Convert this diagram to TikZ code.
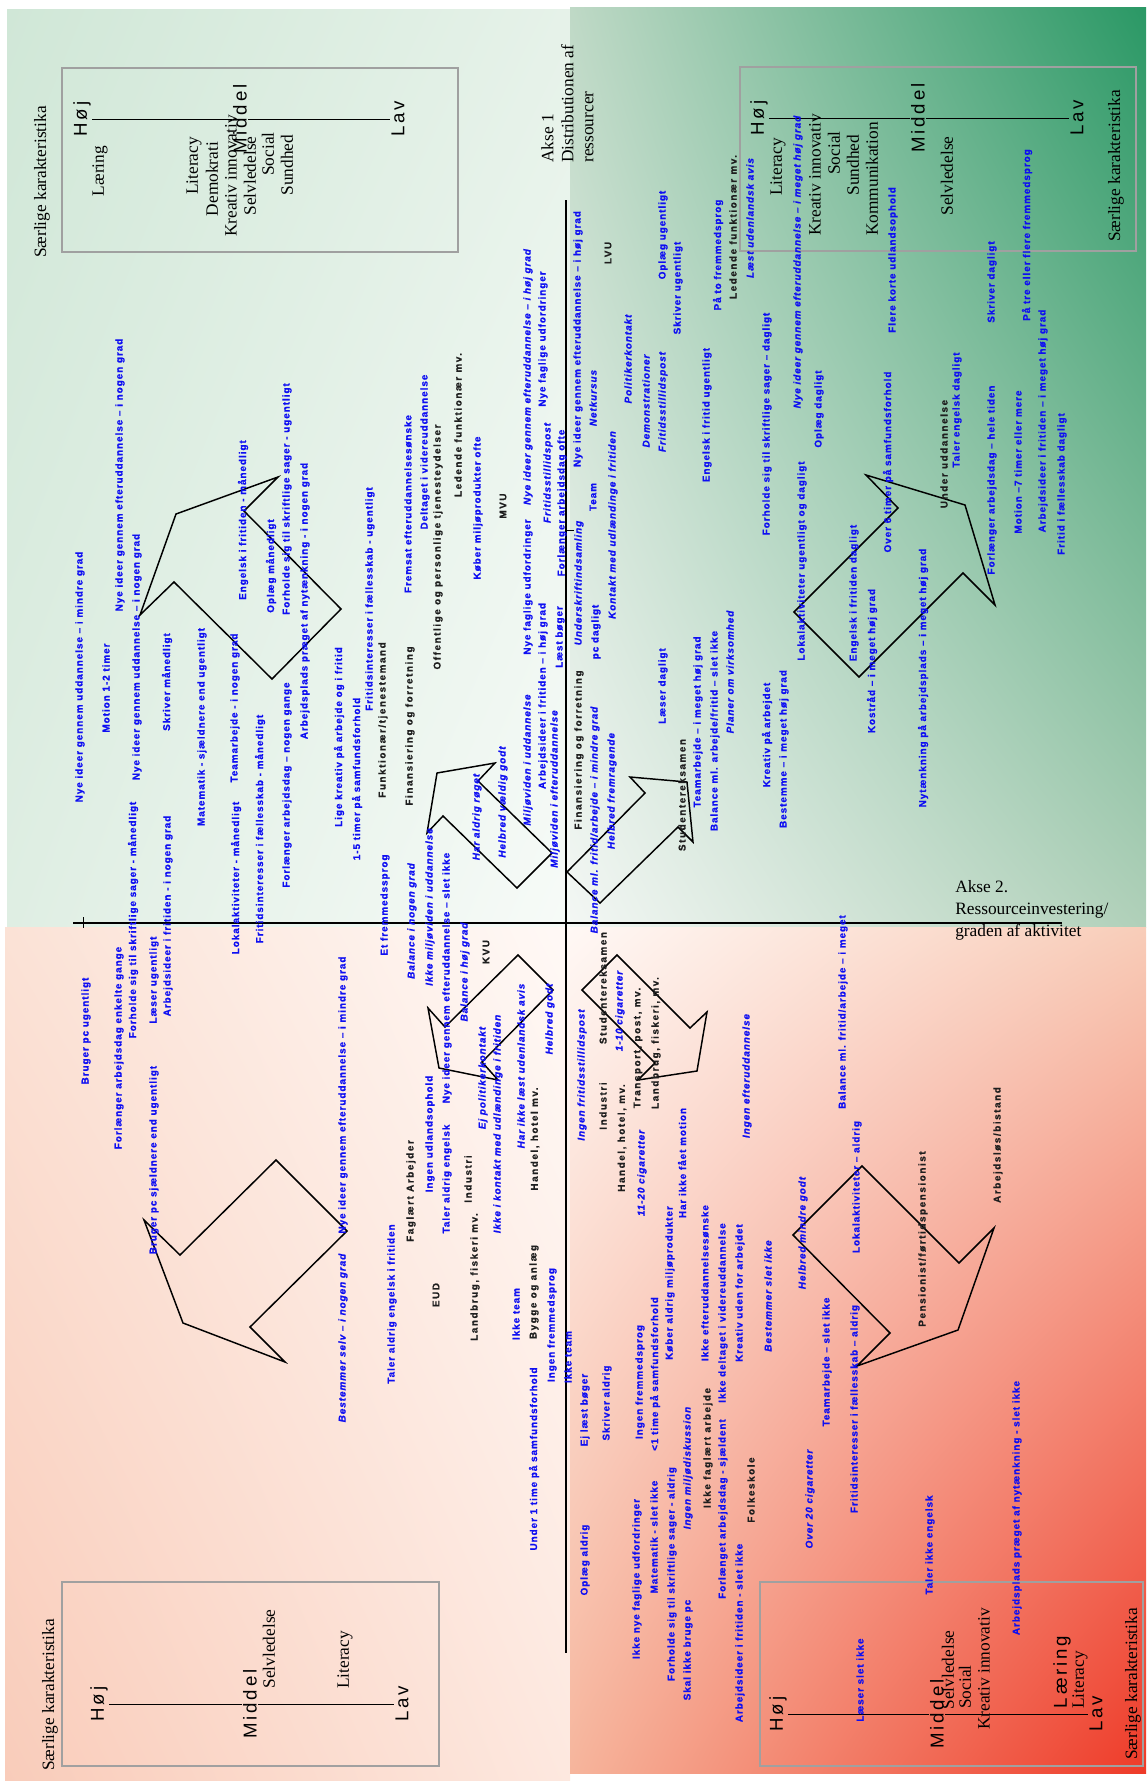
\documentclass[tikz,border=0pt]{standalone}
\usepackage{fontspec}
\usetikzlibrary{shadings}
\setmainfont{Liberation Serif}
\newfontfamily\lblfont[LetterSpace=10, BoldFeatures={FakeBold=0.8}, BoldItalicFeatures={FakeBold=0.8}]{Liberation Sans}
\newfontfamily\blkfont[LetterSpace=16, BoldFeatures={FakeBold=0.8}]{Liberation Sans}
\newfontfamily\levelfont[LetterSpace=15]{Liberation Sans}

\definecolor{lblblue}{RGB}{14,14,242}
\definecolor{lblblack}{RGB}{30,30,30}
\definecolor{boxgray}{RGB}{160,160,160}
\definecolor{tlA}{HTML}{D0E7D7}
\definecolor{tlB}{HTML}{E6F2E9}
\definecolor{tlC}{HTML}{DFEEE3}
\definecolor{tlD}{HTML}{F7FBF8}
\definecolor{trA}{HTML}{BFD9C6}
\definecolor{trB}{HTML}{2A9865}
\definecolor{trC}{HTML}{F3F7F4}
\definecolor{trD}{HTML}{B0D0B9}
\definecolor{blA}{HTML}{FBE2D6}
\definecolor{blB}{HTML}{FFF9F6}
\definecolor{blC}{HTML}{F9CCBA}
\definecolor{blD}{HTML}{FDE8DF}
\definecolor{brA}{HTML}{FFF8F5}
\definecolor{brB}{HTML}{F8CDB9}
\definecolor{brC}{HTML}{F6B59C}
\definecolor{brD}{HTML}{EE3A28}

\tikzset{
  lbl/.style={rotate=90, inner sep=0pt, text=lblblue, font=\lblfont\bfseries\fontsize{7.4}{8}\selectfont},
  lbli/.style={lbl, font=\lblfont\bfseries\itshape\fontsize{7.4}{8}\selectfont},
  lblk/.style={lbl, text=lblblack, font=\blkfont\bfseries\fontsize{7.4}{8}\selectfont},
  lvlmark/.style={rotate=90, inner sep=1pt, font=\levelfont\fontsize{14}{16}\selectfont},
  trait/.style={rotate=90, inner sep=0pt, font=\fontsize{13}{15}\selectfont},
  charbox/.style={draw=boxgray, line width=1.2pt},
  mainaxis/.style={line width=0.8pt},
  arrowshape/.style={line width=1.1pt, line join=miter}
}

\begin{document}
\begin{tikzpicture}[x=0.75pt,y=-0.75pt]
\useasboundingbox (0,0) rectangle (1146,1781);
\fill[white] (0,0) rectangle (1146,1781);

\shade[upper left=tlA, upper right=tlB, lower left=tlC, lower right=tlD] (7,9) rectangle (570,927);
\shade[upper left=trA, upper right=trB, lower left=trC, lower right=trD] (570,7) rectangle (1146,927);
\shade[upper left=blA, upper right=blB, lower left=blC, lower right=blD] (5,927) rectangle (570,1780);
\shade[upper left=brA, upper right=brB, lower left=brC, lower right=brD] (570,927) rectangle (1146,1773);

\coordinate (xa) at (73,923);
\coordinate (xb) at (1062,923);
\coordinate (ya) at (566,200);
\coordinate (yb) at (566,1653);
\coordinate (t1a) at (83,917);
\coordinate (t1b) at (83,928);
\coordinate (t2a) at (566,530);
\coordinate (t2b) at (574,530);
\draw[mainaxis] (xa) -- (xb);
\draw[mainaxis] (ya) -- (yb);
\draw (t1a) -- (t1b);
\draw (t2a) -- (t2b);

\draw[charbox] (62,68) rectangle (458,252);
\draw[charbox] (740,67) rectangle (1136,251);
\draw[charbox] (62,1582) rectangle (439,1766);
\draw[charbox] (760,1582) rectangle (1143,1766);

\draw[arrowshape] (140,615) -- (176,514) -- (278,477) -- (244,511) -- (341,609) -- (272,679) -- (174,582) -- cycle;
\draw[arrowshape] (427,833) -- (437,773) -- (495,763) -- (478,781) -- (552,853) -- (517,888) -- (443,816) -- cycle;
\draw[arrowshape] (630,777) -- (687,782) -- (693,842) -- (678,827) -- (600,903) -- (567,872) -- (645,793) -- cycle;
\draw[arrowshape] (866,475) -- (898,508) -- (794,612) -- (859,677) -- (963,573) -- (995,605) -- (965,505) -- cycle;
\draw[arrowshape] (445,1027) -- (518,955) -- (553,990) -- (482,1062) -- (498,1080) -- (439,1068) -- (428,1008) -- cycle;
\draw[arrowshape] (582,990) -- (617,955) -- (690,1028) -- (707,1012) -- (697,1071) -- (638,1080) -- (655,1063) -- cycle;
\draw[arrowshape] (144,1220) -- (180,1255) -- (276,1160) -- (347,1231) -- (250,1327) -- (285,1362) -- (183,1323) -- cycle;
\draw[arrowshape] (862,1166) -- (793,1235) -- (890,1333) -- (857,1366) -- (958,1330) -- (994,1228) -- (959,1263) -- cycle;

\begin{scope}[every node/.style={lvlmark}]
  \node (hoj1) at (82,119)   {Høj};
  \node (mid1) at (240,119)  {Middel};
  \node (lav1) at (398,119)  {Lav};
  \node (hoj2) at (759,118)  {Høj};
  \node (mid2) at (918,118)  {Middel};
  \node (lav2) at (1077,118) {Lav};
  \node (hoj3) at (99,1704)  {Høj};
  \node (mid3) at (250,1704) {Middel};
  \node (lav3) at (402,1704) {Lav};
  \node (hoj4) at (778,1714) {Høj};
  \node (mid4) at (937,1714) {Middel};
  \node (lav4) at (1096,1714) {Lav};
  \node (laer4) at (1062,1672) {Læring};
\end{scope}
\draw (hoj1) -- (mid1);
\draw (mid1) -- (lav1);
\draw (hoj2) -- (mid2);
\draw (mid2) -- (lav2);
\draw (hoj3) -- (mid3);
\draw (mid3) -- (lav3);
\draw (hoj4) -- (mid4);
\draw (mid4) -- (lav4);

\begin{scope}[every node/.style={trait}]
  \node (sk1) at (42,182)   {Særlige karakteristika};
  \node (tl1) at (100,171)  {Læring};
  \node (tl2) at (194,166)  {Literacy};
  \node (tl3) at (212,179)  {Demokrati};
  \node (tl4) at (231,176)  {Kreativ innovativ};
  \node (tl5) at (250,176)  {Selvledelse};
  \node (tl6) at (268,154)  {Social};
  \node (tl7) at (287,165)  {Sundhed};
  \node (sk2) at (1116,166) {Særlige karakteristika};
  \node (tr1) at (778,167)  {Literacy};
  \node (tr2) at (815,175)  {Kreativ innovativ};
  \node (tr3) at (834,153)  {Social};
  \node (tr4) at (853,165)  {Sundhed};
  \node (tr5) at (872,179)  {Kommunikation};
  \node (tr6) at (947,176)  {Selvledelse};
  \node (sk3) at (50,1695)  {Særlige karakteristika};
  \node (bl1) at (269,1649) {Selvledelse};
  \node (bl2) at (345,1660) {Literacy};
  \node (sk4) at (1133,1684) {Særlige karakteristika};
  \node (br1) at (948,1670) {Selvledelse};
  \node (br2) at (965,1687) {Social};
  \node (br3) at (984,1669) {Kreativ innovativ};
  \node (br4) at (1080,1680) {Literacy};
  \node[anchor=north west, align=left] (akse1) at (541,163) {Akse 1\\Distributionen af\\ressourcer};
\end{scope}
\node[anchor=north west, align=left, inner sep=0pt, font=\fontsize{13}{16.5}\selectfont] (akse2) at (955,880) {Akse 2.\\Ressourceinvestering/\\graden af aktivitet};

\begin{scope}[every node/.style={lbl}]
  \node (b1)  at (80,677)   {Nye ideer gennem uddannelse – i mindre grad};
  \node (b2)  at (106,688)  {Motion 1-2 timer};
  \node (b3)  at (120,475)  {Nye ideer gennem efteruddannelse – i nogen grad};
  \node (b4)  at (137,657)  {Nye ideer gennem uddannelse – i nogen grad};
  \node (b5)  at (133,920)  {Forholde sig til skriftlige sager - månedligt};
  \node (b6)  at (167,682)  {Skriver månedligt};
  \node (b7)  at (168,916)  {Arbejdsideer i fritiden - i nogen grad};
  \node (b8)  at (202,727)  {Matematik - sjældnere end ugentligt};
  \node (b9)  at (235,708)  {Teamarbejde - i nogen grad};
  \node (b10) at (236,878)  {Lokalaktiviteter - månedligt};
  \node (b11) at (243,520)  {Engelsk i fritiden - månedligt};
  \node (b12) at (260,829)  {Fritidsinteresser i fællesskab - månedligt};
  \node (b13) at (271,566)  {Oplæg månedligt};
  \node (b14) at (287,499)  {Forholde sig til skriftlige sager - ugentligt};
  \node (b15) at (287,785)  {Forlænger arbejdsdag – nogen gange};
  \node (b16) at (305,601)  {Arbejdsplads præget af nytænkning - i nogen grad};
  \node (b17) at (339,737)  {Lige kreativ på arbejde og i fritid};
  \node (b18) at (357,779)  {1-5 timer på samfundsforhold};
  \node (b19) at (370,599)  {Fritidsinteresser i fællesskab - ugentligt};
  \node (b20) at (385,905)  {Et fremmedssprog};
  \node (b21) at (408,504)  {Fremsat efteruddannelsesønske};
  \node (b22) at (425,452)  {Deltaget i videreuddannelse};
  \node (b23) at (478,508)  {Køber miljøprodukter ofte};
  \node (b24) at (528,587)  {Nye faglige udfordringer};
  \node (b25) at (543,696)  {Arbejdsideer i fritiden – i høj grad};
  \node (b26) at (543,339)  {Nye faglige udfordringer};
  \node (b27) at (560,637)  {Læst bøger};
  \node (b28) at (562,503)  {Forlænger arbejdsdag ofte};
  \node (b29) at (578,339)  {Nye ideer gennem efteruddannelse – i høj grad};
  \node (b30) at (596,632)  {pc dagligt};
  \node (b31) at (593,497)  {Team};
  \node (b32) at (663,235)  {Oplæg ugentligt};
  \node (b33) at (678,288)  {Skriver ugentligt};
  \node (b34) at (663,686)  {Læser dagligt};
  \node (b35) at (698,722)  {Teamarbejde – i meget høj grad};
  \node (b36) at (707,415)  {Engelsk i fritid ugentligt};
  \node (b37) at (715,731)  {Balance ml. arbejde/fritid – slet ikke};
  \node (b38) at (718,255)  {På to fremmedsprog};
  \node (b39) at (767,424)  {Forholde sig til skriftlige sager – dagligt};
  \node (b40) at (767,735)  {Kreativ på arbejdet};
  \node (b41) at (819,409)  {Oplæg dagligt};
  \node (b42) at (893,260)  {Flere korte udlandsophold};
  \node (b43) at (888,462)  {Over 6 timer på samfundsforhold};
  \node (b44) at (957,410)  {Taler engelsk dagligt};
  \node (b45) at (992,282)  {Skriver dagligt};
  \node (b46) at (992,480)  {Forlænger arbejdsdag – hele tiden};
  \node (b47) at (1027,235) {På tre eller flere fremmedsprog};
  \node (b48) at (1018,462) {Motion –7 timer eller mere};
  \node (b49) at (1043,421) {Arbejdsideer i fritiden – i meget høj grad};
  \node (b50) at (1062,484) {Fritid i fællesskab dagligt};
  \node (b51) at (802,561)  {Lokalaktiviteter ugentligt og dagligt};
  \node (b52) at (784,749)  {Bestemme – i meget høj grad};
  \node (b53) at (854,593)  {Engelsk i fritiden dagligt};
  \node (b54) at (872,661)  {Kostråd – i meget høj grad};
  \node (b55) at (923,678)  {Nytænkning på arbejdsplads – i meget høj grad};
  \node (b56) at (86,1031)  {Bruger pc ugentligt};
  \node (b57) at (119,1048) {Forlænger arbejdsdag enkelte gange};
  \node (b58) at (154,980)  {Læser ugentligt};
  \node (b59) at (154,1160) {Bruger pc sjældnere end ugentligt};
  \node (b60) at (343,1095) {Nye ideer gennem efteruddannelse – i mindre grad};
  \node (b61) at (392,1304) {Taler aldrig engelsk i fritiden};
  \node (b62) at (447,978)  {Nye ideer gennem efteruddannelse – slet ikke};
  \node (b63) at (430,1134) {Ingen udlandsophold};
  \node (b64) at (447,1179) {Taler aldrig engelsk};
  \node (b65) at (516,1314) {Ikke team};
  \node (b66) at (552,1325) {Ingen fremmedsprog};
  \node (b67) at (568,1357) {Ikke team};
  \node (b68) at (682,1163) {Har ikke fået motion};
  \node (b69) at (670,1283) {Køber aldrig miljøprodukter};
  \node (b70) at (705,1283) {Ikke efteruddannelsesønske};
  \node (b71) at (723,1313) {Ikke deltaget i videreuddannelse};
  \node (b72) at (740,1293) {Kreativ uden for arbejdet};
  \node (b73) at (640,1382) {Ingen fremmedsprog};
  \node (b74) at (655,1374) {<1 time på samfundsforhold};
  \node (b75) at (843,1012) {Balance ml. fritid/arbejde – i meget};
  \node (b76) at (857,1187) {Lokalaktiviteter – aldrig};
  \node (b77) at (827,1362) {Teamarbejde – slet ikke};
  \node (b78) at (855,1409) {Fritidsinteresser i fællesskab – aldrig};
  \node (b79) at (930,1545) {Taler ikke engelsk};
  \node (b80) at (1017,1508) {Arbejdsplads præget af nytænkning - slet ikke};
  \node (b81) at (860,1680) {Læser slet ikke};
  \node (b82) at (534,1459) {Under 1 time på samfundsforhold};
  \node (b83) at (585,1410) {Ej læst bøger};
  \node (b84) at (607,1403) {Skriver aldrig};
  \node (b85) at (585,1560) {Oplæg aldrig};
  \node (b86) at (637,1579) {Ikke nye faglige udfordringer};
  \node (b87) at (654,1537) {Matematik - slet ikke};
  \node (b88) at (672,1574) {Forholde sig til skriftlige sager - aldrig};
  \node (b89) at (688,1650) {Skal ikke bruge pc};
  \node (b90) at (723,1509) {Forlænget arbejdsdag - sjældent};
  \node (b91) at (740,1633) {Arbejdsideer i fritiden - slet ikke};
\end{scope}

\begin{scope}[every node/.style={lbli}]
  \node (i1)  at (412,921)  {Balance i nogen grad};
  \node (i2)  at (430,907)  {Ikke miljøviden i uddannelse};
  \node (i3)  at (465,972)  {Balance i høj grad};
  \node (i4)  at (477,817)  {Har aldrig røget};
  \node (i5)  at (503,802)  {Helbred vældig godt};
  \node (i6)  at (528,377)  {Nye ideer gennem efteruddannelse – i høj grad};
  \node (i7)  at (528,760)  {Miljøviden i uddannelse};
  \node (i8)  at (548,473)  {Fritidsstillidspost};
  \node (i9)  at (555,789)  {Miljøviden i efteruddannelse};
  \node (i10) at (579,583)  {Underskriftindsamling};
  \node (i11) at (595,820)  {Balance ml. fritid/arbejde – i mindre grad};
  \node (i12) at (593,398)  {Netkursus};
  \node (i13) at (612,791)  {Helbred fremragende};
  \node (i14) at (613,525)  {Kontakt med udlændinge i fritiden};
  \node (i15) at (628,359)  {Politikerkontakt};
  \node (i16) at (646,401)  {Demonstrationer};
  \node (i17) at (663,402)  {Fritidsstillidspost};
  \node (i18) at (730,672)  {Planer om virksomhed};
  \node (i19) at (750,218)  {Læst udenlandsk avis};
  \node (i20) at (798,262)  {Nye ideer gennem efteruddannelse – i meget høj grad};
  \node (i21) at (483,1078) {Ej politikerkontakt};
  \node (i22) at (498,1124) {Ikke i kontakt med udlændinge i fritiden};
  \node (i23) at (521,1066) {Har ikke læst udenlandsk avis};
  \node (i24) at (550,1019) {Helbred godt};
  \node (i25) at (582,1075) {Ingen fritidsstillidspost};
  \node (i26) at (620,1011) {1-10 cigaretter};
  \node (i27) at (642,1173) {11-20 cigaretter};
  \node (i28) at (747,1076) {Ingen efteruddannelse};
  \node (i29) at (768,1296) {Bestemmer slet ikke};
  \node (i30) at (343,1338) {Bestemmer selv – i nogen grad};
  \node (i31) at (803,1233) {Helbred mindre godt};
  \node (i32) at (810,1499) {Over 20 cigaretter};
  \node (i33) at (688,1468) {Ingen miljødiskussion};
\end{scope}

\begin{scope}[every node/.style={lblk}]
  \node (k1)  at (383,720)  {Funktionær/tjenestemand};
  \node (k2)  at (410,726)  {Finansiering og forretning};
  \node (k3)  at (438,547)  {Offentlige og personlige tjenesteydelser};
  \node (k4)  at (458,425)  {Ledende funktionær mv.};
  \node (k5)  at (503,506)  {MVU};
  \node (k6)  at (608,253)  {LVU};
  \node (k7)  at (579,750)  {Finansiering og forretning};
  \node (k8)  at (682,795)  {Studentereksamen};
  \node (k9)  at (733,227)  {Ledende funktionær mv.};
  \node (k10) at (944,454)  {Under uddannelse};
  \node (k11) at (411,1191) {Faglært Arbejder};
  \node (k12) at (468,1179) {Industri};
  \node (k13) at (475,1277) {Landbrug, fiskeri mv.};
  \node (k14) at (436,1295) {EUD};
  \node (k15) at (486,952)  {KVU};
  \node (k16) at (535,1139) {Handel, hotel mv.};
  \node (k17) at (534,1292) {Bygge og anlæg};
  \node (k18) at (603,988)  {Studentereksamen};
  \node (k19) at (603,1106) {Industri};
  \node (k20) at (622,1138) {Handel, hotel, mv.};
  \node (k21) at (638,1048) {Transport, post, mv.};
  \node (k22) at (656,1043) {Landbrug, fiskeri, mv.};
  \node (k23) at (923,1239) {Pensionist/førtidspensionist};
  \node (k24) at (998,1145) {Arbejdsløs/bistand};
  \node (k25) at (708,1448) {Ikke faglært arbejde};
  \node (k26) at (751,1490) {Folkeskole};
\end{scope}

\end{tikzpicture}
\end{document}
